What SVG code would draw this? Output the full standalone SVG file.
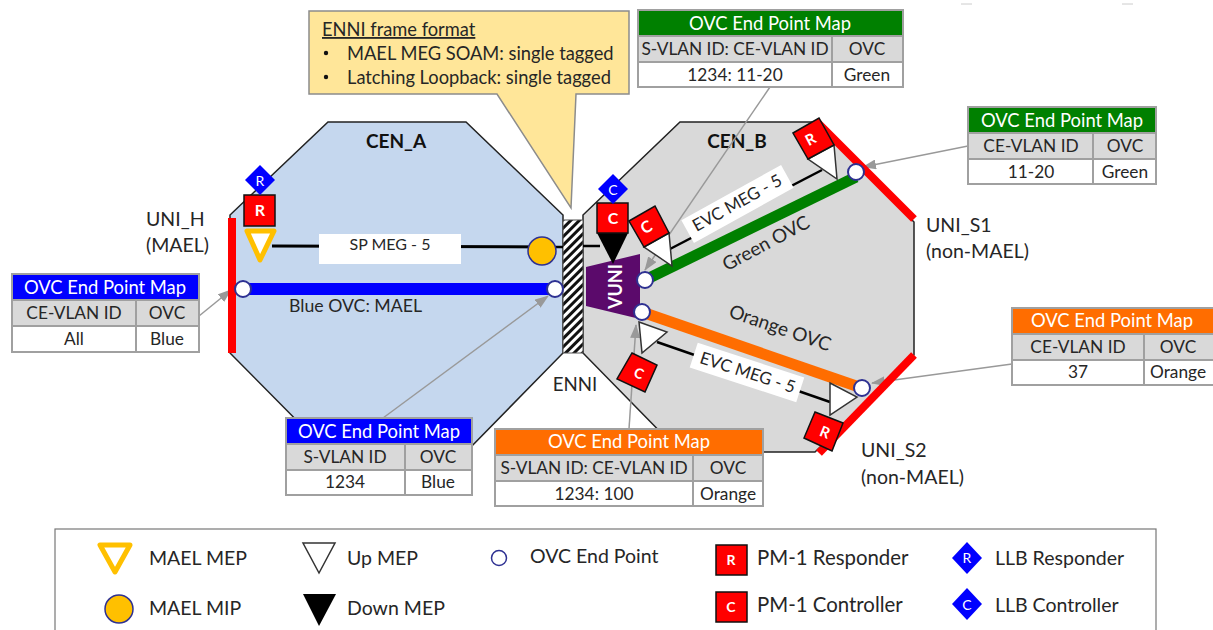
<svg xmlns="http://www.w3.org/2000/svg" width="1213" height="630" viewBox="0 0 1213 630">
<style>
text{font-family:"Lato","Liberation Sans",sans-serif;fill:#262626}
.t{font-size:19.500px}
.c{font-size:18.300px}
.tm{font-size:17.300px;text-anchor:middle}
.th{font-size:18.400px;text-anchor:middle;fill:#fff}
.cell{stroke:#a0a0a0;stroke-width:2;fill:#fff}
.hd{stroke:#a0a0a0;stroke-width:2;fill:#d9d9d9}
.ep{fill:#fff;stroke:#2e3192;stroke-width:2}
.conn{stroke:#999;stroke-width:1.500;fill:none;marker-end:url(#arr)}
.meg{stroke:#000;stroke-width:2.500;fill:none}
.rs{fill:#f00;stroke:#111;stroke-width:1.500}
.dm{fill:#00f}
.up{fill:#fff;stroke:#333;stroke-width:1.500}
.ltr{font-size:16px;font-weight:700;text-anchor:middle;fill:#fff}
</style>
<defs>
<marker id="arr" markerWidth="14" markerHeight="10" refX="13" refY="5" orient="auto" markerUnits="userSpaceOnUse"><path d="M0,0L14,5L0,10z" fill="#999"/></marker>
<pattern id="hatch" width="6" height="6" patternUnits="userSpaceOnUse" patternTransform="rotate(-45)"><rect width="6" height="6" fill="#fff"/><rect width="6" height="3" fill="#111"/></pattern>
</defs>
<line x1="961" y1="4" x2="972" y2="4" stroke="#ccc"/>
<line x1="1122" y1="4" x2="1133" y2="4" stroke="#ccc"/>

<g id="cen-a"><path d="M328,122H466L563,215V353L466,452H328L230,353V215Z" fill="#c5d7ee" stroke="#222" stroke-width="1.500"/><text x="396" y="148" font-size="19" font-weight="700" text-anchor="middle" style="fill:#111">CEN_A</text></g>
<g id="cen-b"><path d="M680,122H815L914,222V355L815,452H680L583,353V215Z" fill="#d9d9d9" stroke="#222" stroke-width="1.500"/><text x="737" y="148" font-size="19" font-weight="700" text-anchor="middle" style="fill:#111">CEN_B</text></g>
<g id="enni"><rect x="563" y="220" width="20" height="133" fill="url(#hatch)" stroke="#555"/><text x="575" y="391" font-size="18.700" text-anchor="middle">ENNI</text></g>
<g id="callout"><path d="M309,11H629V94H576L571,208L497,94H309Z" fill="#ffe699" stroke="#8c8c8c" stroke-width="1.500"/>
<text x="322" y="36" class="c" text-decoration="underline">ENNI frame format</text>
<circle cx="326" cy="53" r="2.200" fill="#111"/><text x="347" y="60" class="c">MAEL MEG SOAM: single tagged</text>
<circle cx="326" cy="77" r="2.200" fill="#111"/><text x="347" y="84" class="c">Latching Loopback: single tagged</text></g>

<g id="connectors">
<line class="meg" x1="272" y1="246" x2="555" y2="247" style="stroke-width:3"/>
<line class="meg" x1="555" y1="247" x2="563" y2="247"/>
<line class="meg" x1="583" y1="246" x2="600" y2="246"/>
<line class="meg" x1="670" y1="249" x2="822" y2="170"/>
<line class="meg" x1="657" y1="342" x2="830" y2="402"/>
<line x1="845" y1="398" x2="830" y2="415" stroke="#333" stroke-width="1.500"/>
<line x1="243" y1="289" x2="555" y2="289" stroke="#00f" stroke-width="12"/>
<line x1="645" y1="280" x2="856" y2="177" stroke="#008000" stroke-width="11"/>
<line x1="642" y1="312" x2="862" y2="388" stroke="#ff6d00" stroke-width="11"/>
<line class="conn" x1="199" y1="316" x2="231" y2="290"/>
<line class="conn" x1="383" y1="418" x2="548" y2="296"/>
<line class="conn" x1="629" y1="429" x2="636" y2="325"/>
<line class="conn" x1="770" y1="87" x2="645" y2="270"/>
<line class="conn" x1="968" y1="146" x2="863" y2="167"/>
<line class="conn" x1="1012" y1="364" x2="872" y2="383"/>
</g>

<g id="uni-h"><line x1="232" y1="218" x2="232" y2="353" stroke="#f00" stroke-width="8"/><text x="146" y="226" class="t">UNI_H</text><text x="146" y="252" class="t">(MAEL)</text></g>
<g id="uni-s1"><line x1="817" y1="122" x2="914" y2="219" stroke="#f00" stroke-width="8"/><text x="926" y="232" class="t">UNI_S1</text><text x="926" y="258" class="t">(non-MAEL)</text></g>
<g id="uni-s2"><line x1="914" y1="355" x2="819" y2="453" stroke="#f00" stroke-width="8"/><text x="861" y="457" class="t">UNI_S2</text><text x="861" y="484" class="t">(non-MAEL)</text></g>

<g id="sp-meg"><rect x="319" y="234" width="142" height="30" fill="#fff"/><text x="390" y="250" font-size="16" text-anchor="middle">SP MEG - 5</text></g>
<g id="evc-green"><rect x="-57" y="-13" width="114" height="26" fill="#fff" transform="translate(737.500,204) rotate(-29)"/><text font-size="17" text-anchor="middle" transform="translate(740,208) rotate(-29)">EVC MEG - 5</text></g>
<g id="evc-orange"><rect x="-56" y="-13" width="112" height="26" fill="#fff" transform="translate(747,372.500) rotate(18)"/><text font-size="17" text-anchor="middle" transform="translate(746,378) rotate(18)">EVC MEG - 5</text></g>
<text id="blue-ovc" x="289" y="312" font-size="17.700">Blue OVC: MAEL</text>
<text id="green-ovc" font-size="19" text-anchor="middle" transform="translate(769,249) rotate(-28)">Green OVC</text>
<text id="orange-ovc" font-size="19" text-anchor="middle" transform="translate(778,334) rotate(19)">Orange OVC</text>

<g id="mael-mep"><rect class="rs" x="244" y="195" width="31" height="31"/><text class="ltr" x="260" y="216">R</text>
<path d="M260,165L275,180L260,195L245,180Z" class="dm"/><text class="ltr" x="260" y="186" style="font-size:14px;font-weight:400">R</text>
<path d="M247,231H274L260,260Z" fill="#fff" stroke="#ffc000" stroke-width="5" stroke-linejoin="round"/></g>
<circle id="mael-mip" cx="542" cy="251" r="14" fill="#ffc000" stroke="#2e3192" stroke-width="1.500"/>

<g id="vuni"><path d="M586,267L640,254V319L586,306Z" fill="#5b0a6b"/><text transform="translate(622,286.500) rotate(-90)" font-size="18" font-weight="700" text-anchor="middle" style="fill:#fff">VUNI</text></g>
<g id="down-mep"><path d="M597,233H628L613,264Z" fill="#000"/><rect class="rs" x="597" y="203" width="31" height="30"/><text class="ltr" x="613" y="224">C</text>
<path d="M613,174L628,189L613,204L598,189Z" class="dm"/><text class="ltr" x="613" y="195" style="font-size:14px;font-weight:400">C</text></g>
<g id="mep-c-green"><path class="up" d="M644,247L669,233L672,266Z"/><path class="rs" d="M629,221L655,206L669,233L644,247Z"/><text class="ltr" transform="translate(649,232) rotate(-28)">C</text></g>
<g id="mep-r-green"><path class="up" d="M808,159L834,145L837,179Z"/><path class="rs" d="M793,133L819,118L834,145L808,159Z" stroke="none"/><text class="ltr" transform="translate(813,144) rotate(-28)" style="font-size:15px">R</text></g>
<g id="mep-c-orange"><path class="up" d="M639,322L667,332L642,353Z"/><path class="rs" d="M632,353L657,365L645,392L617,379Z"/><text class="ltr" transform="translate(637,378) rotate(22)" style="font-size:14px">C</text></g>
<g id="mep-r-orange"><path class="up" d="M830,383L857,397L830,415Z"/><path class="rs" d="M815,412L843,423L832,451L804,438Z"/><text class="ltr" transform="translate(823,437) rotate(22)" style="font-size:15px">R</text></g>

<g id="endpoints">
<circle class="ep" cx="243" cy="289" r="8"/><circle class="ep" cx="555" cy="289" r="8"/>
<circle class="ep" cx="645" cy="280" r="8"/><circle class="ep" cx="642" cy="312" r="8"/>
<circle class="ep" cx="856" cy="172" r="8"/><circle class="ep" cx="862" cy="388" r="8"/>
</g>

<g id="map-blue-uni"><rect x="12" y="274" width="187" height="26" fill="#00f" stroke="#a0a0a0" stroke-width="2"/><rect class="hd" x="12" y="300" width="124" height="26"/><rect class="hd" x="136" y="300" width="63" height="26"/><rect class="cell" x="12" y="326" width="124" height="26"/><rect class="cell" x="136" y="326" width="63" height="26"/>
<text class="th" x="105" y="294">OVC End Point Map</text><text class="tm" x="74" y="319">CE-VLAN ID</text><text class="tm" x="167" y="319">OVC</text><text class="tm" x="74" y="345">All</text><text class="tm" x="167" y="345">Blue</text></g>
<g id="map-blue-enni"><rect x="286" y="418" width="186" height="26" fill="#00f" stroke="#a0a0a0" stroke-width="2"/><rect class="hd" x="286" y="444" width="119" height="26"/><rect class="hd" x="405" y="444" width="67" height="26"/><rect class="cell" x="286" y="470" width="119" height="25"/><rect class="cell" x="405" y="470" width="67" height="25"/>
<text class="th" x="379" y="438">OVC End Point Map</text><text class="tm" x="345" y="463">S-VLAN ID</text><text class="tm" x="438" y="463">OVC</text><text class="tm" x="345" y="488">1234</text><text class="tm" x="438" y="488">Blue</text></g>
<g id="map-orange-enni"><rect x="495" y="429" width="268" height="26" fill="#ff6d00" stroke="#a0a0a0" stroke-width="2"/><rect class="hd" x="495" y="455" width="198" height="26"/><rect class="hd" x="693" y="455" width="70" height="26"/><rect class="cell" x="495" y="481" width="198" height="25"/><rect class="cell" x="693" y="481" width="70" height="25"/>
<text class="th" x="629" y="448">OVC End Point Map</text><text class="tm" x="594" y="474">S-VLAN ID: CE-VLAN ID</text><text class="tm" x="728" y="474">OVC</text><text class="tm" x="594" y="500">1234: 100</text><text class="tm" x="728" y="500">Orange</text></g>
<g id="map-green-enni"><rect x="638" y="10" width="265" height="26" fill="#008000" stroke="#a0a0a0" stroke-width="2"/><rect class="hd" x="638" y="36" width="194" height="26"/><rect class="hd" x="832" y="36" width="71" height="26"/><rect class="cell" x="638" y="62" width="194" height="25"/><rect class="cell" x="832" y="62" width="71" height="25"/>
<text class="th" x="770" y="30">OVC End Point Map</text><text class="tm" x="735" y="55">S-VLAN ID: CE-VLAN ID</text><text class="tm" x="867" y="55">OVC</text><text class="tm" x="735" y="81">1234: 11-20</text><text class="tm" x="867" y="81">Green</text></g>
<g id="map-green-uni"><rect x="968" y="107" width="188" height="26" fill="#008000" stroke="#a0a0a0" stroke-width="2"/><rect class="hd" x="968" y="133" width="125" height="26"/><rect class="hd" x="1093" y="133" width="63" height="26"/><rect class="cell" x="968" y="159" width="125" height="25"/><rect class="cell" x="1093" y="159" width="63" height="25"/>
<text class="th" x="1062" y="127">OVC End Point Map</text><text class="tm" x="1031" y="152">CE-VLAN ID</text><text class="tm" x="1125" y="152">OVC</text><text class="tm" x="1031" y="178">11-20</text><text class="tm" x="1125" y="178">Green</text></g>
<g id="map-orange-uni"><rect x="1012" y="308" width="203" height="26" fill="#ff6d00" stroke="#a0a0a0" stroke-width="2"/><rect class="hd" x="1012" y="334" width="132" height="26"/><rect class="hd" x="1144" y="334" width="71" height="26"/><rect class="cell" x="1012" y="360" width="132" height="25"/><rect class="cell" x="1144" y="360" width="71" height="25"/>
<text class="th" x="1112" y="327">OVC End Point Map</text><text class="tm" x="1078" y="353">CE-VLAN ID</text><text class="tm" x="1178" y="353">OVC</text><text class="tm" x="1078" y="378">37</text><text class="tm" x="1178" y="378">Orange</text></g>

<g id="legend"><rect x="55" y="529" width="1101" height="110" fill="#fff" stroke="#777" stroke-width="1.200"/>
<path d="M100,545H130L115,572Z" fill="#fff" stroke="#ffc000" stroke-width="5" stroke-linejoin="round"/><text x="149" y="565" class="t">MAEL MEP</text>
<circle cx="119" cy="609" r="14" fill="#ffc000" stroke="#2e3192" stroke-width="1.500"/><text x="149" y="615" class="t">MAEL MIP</text>
<path class="up" d="M303,543H335L319,573Z"/><text x="347" y="565" class="t">Up MEP</text>
<path d="M303,594H336L319,626Z" fill="#000"/><text x="347" y="615" class="t">Down MEP</text>
<circle class="ep" cx="499" cy="558" r="7.500" style="stroke-width:1.500"/><text x="530" y="563" class="t">OVC End Point</text>
<rect class="rs" x="716" y="545" width="31" height="30"/><text class="ltr" x="731" y="565" style="font-size:14px">R</text><text x="757" y="565" class="t" style="font-size:20.400px">PM-1 Responder</text>
<rect class="rs" x="716" y="592" width="31" height="30"/><text class="ltr" x="731" y="612" style="font-size:14px">C</text><text x="757" y="612" class="t" style="font-size:20.400px">PM-1 Controller</text>
<path d="M967,542L982,558L967,574L952,558Z" class="dm"/><text class="ltr" x="967" y="563" style="font-size:14px;font-weight:400">R</text><text x="995" y="565" class="t">LLB Responder</text>
<path d="M967,588L982,604L967,620L952,604Z" class="dm"/><text class="ltr" x="967" y="610" style="font-size:14px;font-weight:400">C</text><text x="995" y="612" class="t">LLB Controller</text>
</g>
</svg>
